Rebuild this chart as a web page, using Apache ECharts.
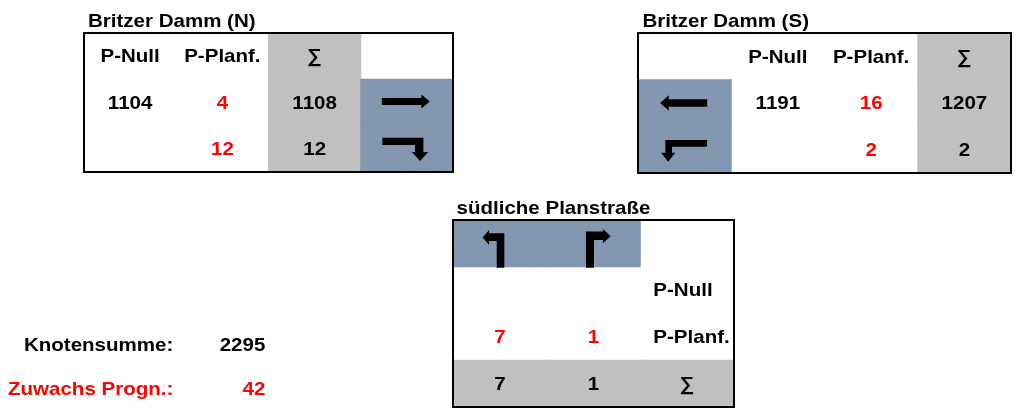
<!DOCTYPE html>
<html><head><meta charset="utf-8">
<script src="https://cdn.jsdelivr.net/npm/echarts@6/dist/echarts.min.js"></script>
<style>html,body{margin:0;padding:0;background:#fff}#c{width:1016px;height:410px}</style>
</head><body><div id="c"></div>
<script>
// ---------------- data ----------------
const titleN = 'Britzer Damm (N)';
const titleS = 'Britzer Damm (S)';
const titleP = 'südliche Planstraße';

const kindsN = ['P-Null', 'P-Planf.', '∑', 'Richtung'];
const pNullN = [1104, null];
const pPlanfN = [4, 12];
const sumN = [1108, 12];
const dirN = ['→', '→↓'];

const kindsS = ['Richtung', 'P-Null', 'P-Planf.', '∑'];
const pNullS = [1191, null];
const pPlanfS = [16, 2];
const sumS = [1207, 2];
const dirS = ['←', '←↓'];

const kindsP = ['Richtung', 'P-Null', 'P-Planf.', '∑'];
const pNullP = [null, null];
const pPlanfP = [7, 1];
const sumP = [7, 1];
const dirP = ['↑←', '↑→'];

const summaryLabels = ['Knotensumme:', 'Zuwachs Progn.:'];
const summaryValues = [2295, 42];

// ---------------- styles ----------------
const GREY = '#C0C0C0', BLUE = '#8497B0', RED = '#FF0000', BLACK = '#000000';
const FONT = 'bold 19px "Liberation Sans", Arial, sans-serif';
const SX = 1.08;
const DY = 1;

const ARROWS = {
  '→':  {path: 'path://M0,3.5L39.5,3.5L39.5,0L48,7L39.5,14L39.5,10.5L0,10.5Z', size: [48, 14], offset: [-1, -1]},
  '→↓': {path: 'path://M0,0L41,0L41,14.3L46,14.3L37.7,23.3L29.4,14.3L32.7,14.3L32.7,7.3L0,7.3Z', size: [46, 23.3], offset: [-1.5, 0.5]},
  '←':  {path: 'path://M0,7.85L8.7,0L8.7,4L47,4L47,11.7L8.7,11.7L8.7,15.7Z', size: [47, 15.7], offset: [-1, 0]},
  '←↓': {path: 'path://M4.3,0L46,0L46,6.7L11,6.7L11,12.7L14.3,12.7L7.15,21.7L0,12.7L4.3,12.7Z', size: [46, 21.7], offset: [-0.6, 1.2]},
  '↑←': {path: 'path://M0,7.5L6.3,0L6.3,3.3L21.6,3.3L21.6,37.7L14,37.7L14,11L6.3,11L6.3,15Z', size: [21.6, 37.7], offset: [-6.3, 5.5]},
  '↑→': {path: 'path://M0,2.5L17,2.5L17,0L24.7,7.2L17,14.3L17,11L8,11L8,38.7L0,38.7Z', size: [24.7, 38.7], offset: [4.8, 5]}
};

function fmt(v) { return v === null || v === undefined ? '' : String(v); }

// Build table cells. transposed=false: kinds along columns, header row on top.
// transposed=true: kinds along rows, header column on the right.
function buildTable(kinds, pNull, pPlanf, sum, dir, transposed) {
  const n = pPlanf.length;
  const cells = [], arrows = [];
  const nc = transposed ? n + 1 : kinds.length;
  const nr = transposed ? kinds.length : n + 1;
  for (let c = 0; c < nc; c++) {
    for (let r = 0; r < nr; r++) {
      const kind = transposed ? kinds[r] : kinds[c];
      const isHead = transposed ? c === n : r === 0;
      const idx = transposed ? c : r - 1;
      const cell = {c, r, text: '', color: BLACK, bg: null, align: 'center'};
      if (isHead) {
        cell.text = kind === 'Richtung' ? '' : kind;
        if (kind === '∑') cell.bg = GREY;
        if (transposed && kind !== '∑') cell.align = 'left';
      } else if (kind === 'P-Null') {
        cell.text = fmt(pNull[idx]);
      } else if (kind === 'P-Planf.') {
        cell.text = fmt(pPlanf[idx]); cell.color = RED;
      } else if (kind === '∑') {
        cell.text = fmt(sum[idx]); cell.bg = GREY;
      } else if (kind === 'Richtung') {
        cell.bg = BLUE;
        arrows.push({c, r, d: dir[idx]});
      }
      cells.push(cell);
    }
  }
  return {cells, arrows, nc, nr};
}

function textEl(x, y, text, color, align) {
  return {type: 'text', x, y: y + DY, scaleX: SX,
    style: {text, fill: color, font: FONT, align, verticalAlign: 'middle', textAlign: align, textVerticalAlign: 'middle'}};
}

function cellSeries(g, cells) {
  return {
    type: 'custom', coordinateSystem: 'cartesian2d', xAxisIndex: g, yAxisIndex: g, silent: true, z: 2,
    data: cells.map(c => [c.c, c.r]),
    renderItem(params, api) {
      const cell = cells[params.dataIndex];
      const p = api.coord([api.value(0), api.value(1)]);
      const s = api.size([1, 1]);
      const children = [];
      if (cell.bg) children.push({type: 'rect',
        shape: {x: p[0] - s[0] / 2 - 0.5, y: p[1] - s[1] / 2 - 0.5, width: s[0] + 1, height: s[1] + 1},
        style: {fill: cell.bg}});
      if (cell.text !== '') {
        let x = p[0];
        if (cell.align === 'left') x = p[0] - s[0] / 2 + 13;
        if (cell.align === 'right') x = p[0] + s[0] / 2;
        children.push(textEl(x, p[1], cell.text, cell.color, cell.align));
      }
      return {type: 'group', children};
    }
  };
}

function arrowSeries(g, arrows) {
  return {
    type: 'scatter', xAxisIndex: g, yAxisIndex: g, silent: true, z: 4,
    itemStyle: {color: BLACK, opacity: 1},
    emphasis: {disabled: true},
    data: arrows.map(a => ({value: [a.c, a.r], symbol: ARROWS[a.d].path,
      symbolSize: ARROWS[a.d].size, symbolOffset: ARROWS[a.d].offset}))
  };
}

const tN = buildTable(kindsN, pNullN, pPlanfN, sumN, dirN, false);
const tS = buildTable(kindsS, pNullS, pPlanfS, sumS, dirS, false);
const tP = buildTable(kindsP, pNullP, pPlanfP, sumP, dirP, true);

const summaryCells = [];
summaryLabels.forEach((l, i) => {
  const color = i === 1 ? RED : BLACK;
  summaryCells.push({c: 0, r: i, text: l, color, bg: null, align: 'right'});
  summaryCells.push({c: 1, r: i, text: fmt(summaryValues[i]), color, bg: null, align: 'right'});
});

const frame = {show: true, borderColor: BLACK, borderWidth: 2, backgroundColor: 'transparent', z: 10};
const grids = [
  Object.assign({left: 84, top: 33, width: 369, height: 139}, frame),
  Object.assign({left: 638, top: 33, width: 373, height: 140}, frame),
  Object.assign({left: 453, top: 220, width: 281, height: 187}, frame),
  {left: 81.3, top: 323.5, width: 184, height: 94, show: false}
];
const dims = [[tN.nc, tN.nr], [tS.nc, tS.nr], [tP.nc, tP.nr], [2, 2]];
const xAxes = dims.map((d, i) => ({type: 'category', gridIndex: i, show: false,
  data: Array.from({length: d[0]}, (_, k) => String(k))}));
const yAxes = dims.map((d, i) => ({type: 'category', gridIndex: i, show: false, inverse: true,
  data: Array.from({length: d[1]}, (_, k) => String(k))}));

function titleEl(x, y, text) {
  return {type: 'text', x, y, scaleX: SX, silent: true,
    style: {text, fill: BLACK, font: FONT, align: 'left', verticalAlign: 'middle', textAlign: 'left', textVerticalAlign: 'middle'}};
}

const chart = echarts.init(document.getElementById('c'), null, {renderer: 'canvas'});
chart.setOption({
  animation: false,
  backgroundColor: '#ffffff',
  grid: grids,
  xAxis: xAxes,
  yAxis: yAxes,
  graphic: [titleEl(88, 21.5, titleN), titleEl(642.5, 21.5, titleS), titleEl(456.5, 208.5, titleP)],
  series: [
    cellSeries(0, tN.cells), arrowSeries(0, tN.arrows),
    cellSeries(1, tS.cells), arrowSeries(1, tS.arrows),
    cellSeries(2, tP.cells), arrowSeries(2, tP.arrows),
    cellSeries(3, summaryCells)
  ]
});
</script></body></html>
